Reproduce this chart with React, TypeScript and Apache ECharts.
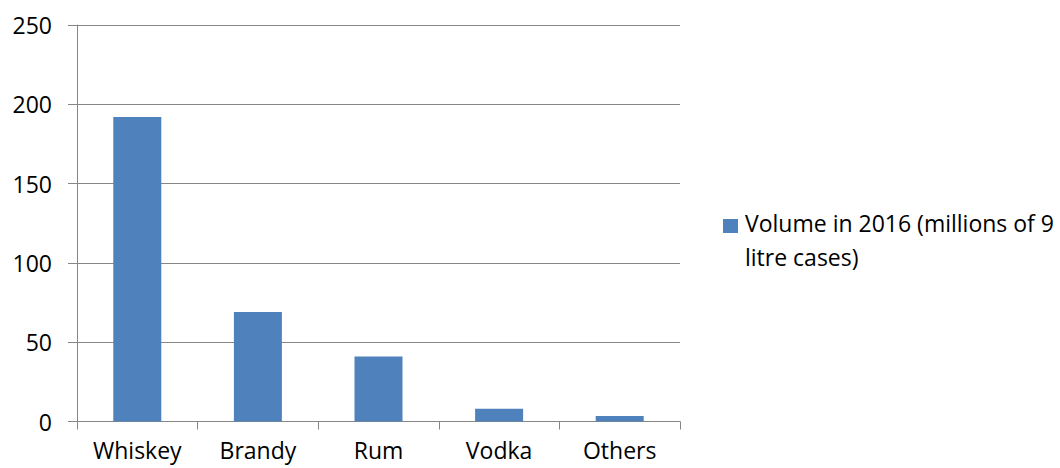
import React, { useEffect, useRef } from "react";
import * as echarts from "echarts";

const categories = ["Whiskey", "Brandy", "Rum", "Vodka", "Others"];
const volumes = [192, 69, 41, 8, 3.5];
const seriesName = "Volume in 2016 (millions of 9 litre cases)";
const legendLines = ["Volume in 2016 (millions of 9", "litre cases)"];

const FONT = "'Open Sans', sans-serif";
const GREY = "#868686";
const BLUE = "#4F81BD";

export default function App() {
  const ref = useRef<HTMLDivElement>(null);
  useEffect(() => {
    if (!ref.current) return;
    const chart = echarts.init(ref.current, undefined, { renderer: "svg" });
    chart.setOption({
      animation: false,
      backgroundColor: "#ffffff",
      grid: { left: 77, right: 380, top: 25, bottom: 46.5, containLabel: false },
      xAxis: {
        type: "category",
        data: categories,
        boundaryGap: true,
        axisLine: { show: true, lineStyle: { color: GREY, width: 1 } },
        axisTick: { show: true, length: 8, alignWithLabel: false, lineStyle: { color: GREY } },
        axisLabel: { color: "#000", fontFamily: FONT, fontSize: 23, margin: 17 },
      },
      yAxis: {
        type: "value",
        min: 0,
        max: 250,
        interval: 50,
        axisLine: { show: true, lineStyle: { color: GREY, width: 1 } },
        axisTick: { show: true, length: 9, lineStyle: { color: GREY } },
        axisLabel: { color: "#000", fontFamily: FONT, fontSize: 23, margin: 25 },
        splitLine: { show: true, lineStyle: { color: GREY, width: 1 } },
      },
      series: [
        {
          name: seriesName,
          type: "bar",
          data: volumes,
          barWidth: 48,
          itemStyle: { color: BLUE },
        },
      ],
      graphic: [
        {
          type: "rect",
          shape: { x: 723, y: 219, width: 15, height: 14 },
          style: { fill: BLUE },
        },
        {
          type: "text",
          x: 745,
          y: 206,
          style: {
            text: legendLines.join("\n"),
            font: `23px ${FONT}`,
            fill: "#000",
            lineHeight: 34,
          },
        },
      ],
    });
    return () => chart.dispose();
  }, []);
  return (
    <div
      ref={ref}
      style={{ position: "absolute", left: 0, top: 0, width: 1060, height: 468 }}
    />
  );
}
